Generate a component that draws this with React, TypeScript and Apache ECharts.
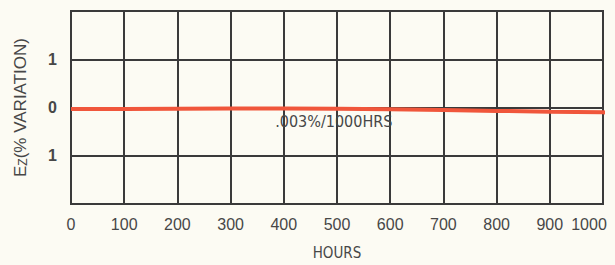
import React, { useEffect, useRef } from "react";
import * as echarts from "echarts";

const hourTicks = [0, 100, 200, 300, 400, 500, 600, 700, 800, 900, 1000];
const hours = [0, 100, 200, 300, 400, 500, 600, 700, 800, 900, 1000, 1010];
const variation = [-0.03, -0.03, -0.025, -0.02, -0.02, -0.025, -0.035, -0.05, -0.07, -0.09, -0.1, -0.11];
const yTickLabels: Record<string, string> = { "-1": "1", "0": "0", "1": "1" };
const annotation = ".003%/1000HRS";
const annotationAt = [494, -0.3];

export default function App() {
  const ref = useRef<HTMLDivElement>(null);
  useEffect(() => {
    if (!ref.current) return;
    const chart = echarts.init(ref.current, undefined, { renderer: "svg" });
    const txt = "#474747";
    const cond = "'DejaVu Sans Condensed', 'Liberation Sans', sans-serif";
    const sans = "'Liberation Sans', sans-serif";
    chart.setOption({
      animation: false,
      backgroundColor: "#fcfbf3",
      grid: {
        left: 71,
        top: 11,
        right: 12,
        bottom: 57,
        show: true,
        borderColor: "#3a3a3a",
        borderWidth: 2,
      },
      xAxis: {
        type: "value",
        min: 0,
        max: 1000,
        interval: 100,
        name: "HOURS",
        nameLocation: "middle",
        nameGap: 41,
        nameTextStyle: {
          color: txt,
          fontSize: 15,
          fontFamily: cond,
        },
        axisLine: { show: false },
        axisTick: { show: false },
        splitLine: { show: true, lineStyle: { color: "#3a3a3a", width: 2 } },
        axisLabel: {
          color: txt,
          fontSize: 16,
          fontFamily: sans,
          margin: 12,
          formatter: (v: number) =>
            hourTicks.includes(v) ? (v === 1000 ? "{r|" + v + "}" : String(v)) : "",
          rich: {
            r: { color: txt, fontSize: 16, fontFamily: sans, padding: [0, 28, 0, 0] },
          },
        },
      },
      yAxis: {
        type: "value",
        min: -2,
        max: 2,
        interval: 1,
        name: "E{s|Z}(% VARIATION)",
        nameLocation: "middle",
        nameGap: 42,
        nameRotate: 90,
        nameTextStyle: {
          color: txt,
          fontSize: 17,
          fontFamily: sans,
          rich: {
            s: { color: txt, fontSize: 12, fontFamily: sans, verticalAlign: "bottom", padding: [6, 0, 0, 0] },
          },
        },
        axisLine: { show: false },
        axisTick: { show: false },
        splitLine: { show: true, lineStyle: { color: "#3a3a3a", width: 2 } },
        axisLabel: {
          color: txt,
          fontSize: 16,
          fontWeight: "bold",
          fontFamily: sans,
          margin: 14,
          formatter: (v: number) => yTickLabels[String(v)] ?? "",
        },
      },
      series: [
        {
          type: "line",
          data: hours.map((h, i) => [h, variation[i]]),
          showSymbol: false,
          clip: false,
          lineStyle: { color: "#f0563b", width: 4 },
          markPoint: {
            symbol: "rect",
            symbolSize: 1,
            itemStyle: { color: "rgba(0,0,0,0)" },
            data: [
              {
                coord: annotationAt,
                label: {
                  show: true,
                  position: "inside",
                  formatter: annotation,
                  color: txt,
                  fontSize: 16,
                  fontFamily: cond,
                },
              },
            ],
          },
        },
      ],
    });
    return () => chart.dispose();
  }, []);
  return (
    <div
      ref={ref}
      style={{ position: "fixed", left: 0, top: 0, width: 615, height: 265 }}
    />
  );
}
